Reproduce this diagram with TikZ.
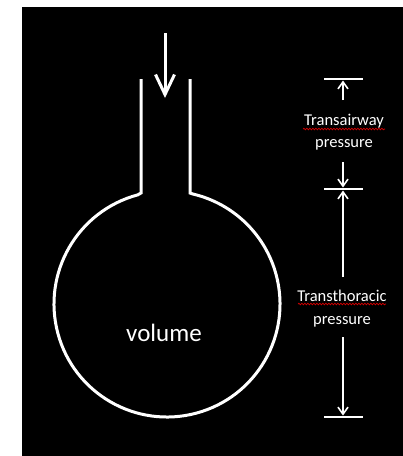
\documentclass[tikz,border=0pt]{standalone}
\usepackage{fontspec}
\setmainfont{Carlito}
\usetikzlibrary{arrows.meta,decorations.pathmorphing,calc}

\begin{document}
\begin{tikzpicture}[x=1pt,y=-1pt,
  wall/.style={draw=white,line width=3pt,line join=miter},
  flow/.style={draw=white,line width=3pt,-{Straight Barb[length=20pt,width=19pt,line width=3pt]}},
  dimline/.style={draw=white,line width=2pt,-{Straight Barb[length=7pt,width=10pt,line width=1.6pt]}},
  dimbar/.style={draw=white,line width=2.2pt},
  label/.style={text=white,align=center,inner sep=0pt},
  spell/.style={draw=red!85!black,line width=0.7pt,decorate,
    decoration={snake,amplitude=0.8pt,segment length=3pt}}]

% page and dark panel
\useasboundingbox (0,0) rectangle (403,456);
\fill[white] (0,0) rectangle (403,456);
\fill[black] (22,7) rectangle (403,456);

% flask: neck walls joined to the round bulb
\coordinate (bulb) at (167,304);
\draw[wall] (141,79) -- (141,193) -- ($(bulb)+(-105:113)$)
  arc[start angle=-105,end angle=-436.5,radius=113]
  -- (190,193) -- (190,79);

% inflow arrow
\coordinate (inA) at (165,33);
\coordinate (inB) at (165,98);
\draw[flow] (inA) -- (inB);

% volume label
\node[label,font=\fontsize{25}{28}\selectfont] (vol) at (164,333) {volume};

% dimension bars
\coordinate (bt1) at (324,79);  \coordinate (bt2) at (363,79);
\coordinate (bm1) at (324,189); \coordinate (bm2) at (363,189);
\coordinate (bb1) at (324,417); \coordinate (bb2) at (363,417);
\draw[dimbar] (bt1) -- (bt2);
\draw[dimbar] (bm1) -- (bm2);
\draw[dimbar] (bb1) -- (bb2);

% dimension labels
\node[label,font=\fontsize{16.5}{22}\selectfont] (ta) at (344,132) {Transairway\\pressure};
\node[label,font=\fontsize{16.5}{23}\selectfont] (tt) at (342,308.5) {Transthoracic\\pressure};

% spell-check underlines
\draw[spell] (303,129) -- (385,129);
\draw[spell] (298,304) -- (386,304);

% dimension arrows
\coordinate (a1s) at (343,100); \coordinate (a1e) at (343,80.5);
\coordinate (a2s) at (343,162); \coordinate (a2e) at (343,187.5);
\coordinate (a3s) at (343,277); \coordinate (a3e) at (343,190.5);
\coordinate (a4s) at (343,337); \coordinate (a4e) at (343,415.5);
\draw[dimline] (a1s) -- (a1e);
\draw[dimline] (a2s) -- (a2e);
\draw[dimline] (a3s) -- (a3e);
\draw[dimline] (a4s) -- (a4e);
\end{tikzpicture}
\end{document}
